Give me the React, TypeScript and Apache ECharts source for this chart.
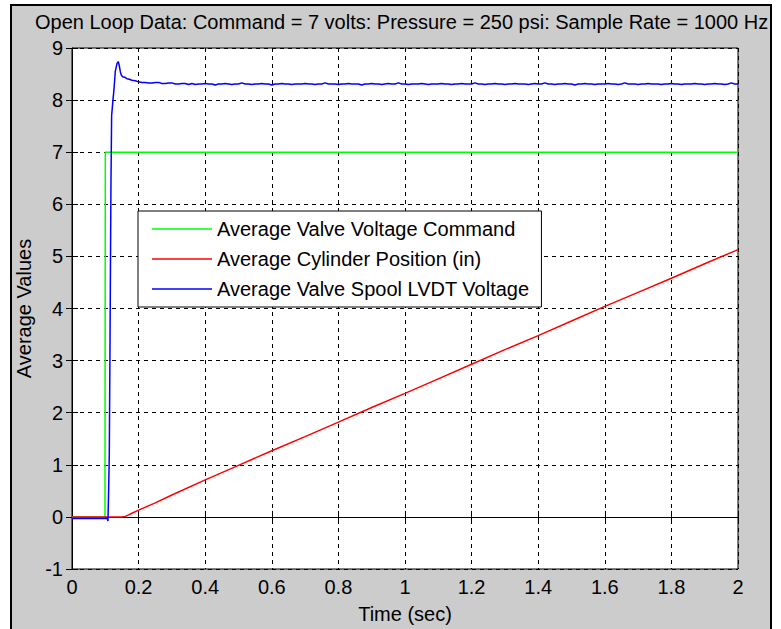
import React, { useEffect, useRef } from "react";
import * as echarts from "echarts";

const TITLE = "Open Loop Data: Command = 7 volts: Pressure = 250 psi: Sample Rate = 1000 Hz";
const X_NAME = "Time (sec)";
const Y_NAME = "Average Values";
const SERIES_NAMES = [
  "Average Valve Voltage Command",
  "Average Cylinder Position (in)",
  "Average Valve Spool LVDT Voltage",
];

// Command step (time, volts)
const commandData: [number, number][] = [
  [0, 0],
  [0.099, 0],
  [0.1, 7],
  [2.0, 7],
];

// Cylinder position (time, in)
const positionData: [number, number][] = [
  [0, 0],
  [0.1, 0],
  [0.15, 0],
  [0.16, 0.01],
  [0.17, 0.04],
  [0.18, 0.07],
  [0.2, 0.13],
  [0.25, 0.27],
  [0.3, 0.42],
  [0.4, 0.71],
  [0.5, 0.99],
  [0.6, 1.27],
  [0.7, 1.54],
  [0.8, 1.82],
  [0.9, 2.1],
  [1.0, 2.37],
  [1.1, 2.65],
  [1.2, 2.93],
  [1.3, 3.21],
  [1.4, 3.48],
  [1.5, 3.76],
  [1.6, 4.04],
  [1.7, 4.31],
  [1.8, 4.58],
  [1.9, 4.86],
  [2.0, 5.13],
];

// LVDT spool voltage: rise and overshoot (time, volts)
const lvdtRise: [number, number][] = [
  [0, -0.03],
  [0.05, -0.03],
  [0.106, -0.03],
  [0.108, -0.08],
  [0.11, 0.5],
  [0.112, 1.2],
  [0.114, 3.2],
  [0.117, 6.4],
  [0.119, 7.7],
  [0.123, 8.0],
  [0.126, 8.2],
  [0.13, 8.55],
  [0.135, 8.7],
  [0.139, 8.74],
  [0.142, 8.66],
  [0.145, 8.55],
  [0.148, 8.48],
  [0.152, 8.45],
  [0.158, 8.44],
  [0.165, 8.41],
  [0.172, 8.4],
  [0.18, 8.38],
  [0.19, 8.37],
];
// LVDT steady state, every 0.01 s from 0.20 to 2.00
const lvdtSteady: number[] = [
  8.35, 8.34, 8.34, 8.33, 8.33, 8.34, 8.34, 8.32, 8.32, 8.33,
  8.33, 8.31, 8.31, 8.32, 8.32, 8.3, 8.32, 8.3, 8.31, 8.31,
  8.32, 8.31, 8.31, 8.29, 8.31, 8.31, 8.32, 8.31, 8.3, 8.31,
  8.31, 8.33, 8.31, 8.31, 8.3, 8.31, 8.31, 8.32, 8.31, 8.31,
  8.29, 8.31, 8.31, 8.32, 8.31, 8.31, 8.3, 8.31, 8.31, 8.31,
  8.32, 8.31, 8.31, 8.3, 8.31, 8.31, 8.33, 8.31, 8.31, 8.31,
  8.3, 8.31, 8.31, 8.32, 8.31, 8.31, 8.31, 8.29, 8.31, 8.31,
  8.32, 8.31, 8.31, 8.3, 8.31, 8.32, 8.31, 8.31, 8.33, 8.31,
  8.31, 8.3, 8.31, 8.31, 8.31, 8.32, 8.31, 8.3, 8.31, 8.31,
  8.31, 8.32, 8.31, 8.31, 8.3, 8.31, 8.31, 8.32, 8.31, 8.31,
  8.31, 8.33, 8.31, 8.31, 8.3, 8.31, 8.31, 8.32, 8.31, 8.31,
  8.3, 8.31, 8.31, 8.32, 8.31, 8.31, 8.31, 8.3, 8.31, 8.32,
  8.31, 8.31, 8.33, 8.31, 8.31, 8.3, 8.31, 8.31, 8.32, 8.31,
  8.31, 8.29, 8.31, 8.31, 8.32, 8.31, 8.31, 8.3, 8.31, 8.31,
  8.31, 8.32, 8.31, 8.31, 8.3, 8.31, 8.33, 8.31, 8.31, 8.31,
  8.3, 8.31, 8.31, 8.32, 8.31, 8.31, 8.31, 8.3, 8.31, 8.31,
  8.32, 8.31, 8.31, 8.3, 8.31, 8.31, 8.31, 8.32, 8.31, 8.31,
  8.3, 8.31, 8.31, 8.32, 8.31, 8.31, 8.3, 8.31, 8.33, 8.31,
  8.31,
];
const LVDT_STEADY_START = 0.2;
const LVDT_STEADY_STEP = 0.01;

const X_MIN = 0;
const X_MAX = 2;
const X_INTERVAL = 0.2;
const Y_MIN = -1;
const Y_MAX = 9;
const Y_INTERVAL = 1;

const COLORS = ["#00ff00", "#ff0000", "#0000ff"];
const FONT = "'Liberation Sans', Arial, Helvetica, sans-serif";

export default function App() {
  const ref = useRef<HTMLDivElement>(null);

  useEffect(() => {
    if (!ref.current) return;
    const chart = echarts.init(ref.current, undefined, { renderer: "svg" });

    const lvdtData: [number, number][] = [
      ...lvdtRise,
      ...lvdtSteady.map(
        (v, i) =>
          [
            Math.round((LVDT_STEADY_START + i * LVDT_STEADY_STEP) * 1000) / 1000,
            v,
          ] as [number, number]
      ),
    ];

    const gridLine = { color: "#000", type: [4, 4] as number[], width: 1 };
    const tick = { show: true, inside: true, length: 6, lineStyle: { color: "#000" } };

    chart.setOption({
      animation: false,
      textStyle: { fontFamily: FONT },
      title: {
        text: TITLE,
        left: 35,
        top: 12,
        padding: 0,
        textStyle: { fontFamily: FONT, fontSize: 20, fontWeight: "normal", color: "#000" },
      },
      grid: {
        left: 72,
        width: 666,
        top: 48,
        height: 525,
        show: true,
        backgroundColor: "#ffffff",
        borderColor: "#000",
        borderWidth: 1,
      },
      legend: {
        orient: "vertical",
        left: 138,
        top: 211,
        data: SERIES_NAMES,
        icon: "rect",
        itemWidth: 60,
        itemHeight: 1.5,
        itemGap: 10,
        padding: [8, 12, 8, 14],
        backgroundColor: "#ffffff",
        borderColor: "#000",
        borderWidth: 1,
        borderRadius: 0,
        textStyle: { fontFamily: FONT, fontSize: 20, lineHeight: 20, color: "#000" },
        selectedMode: false,
      },
      xAxis: [
        {
          type: "value",
          min: X_MIN,
          max: X_MAX,
          interval: X_INTERVAL,
          name: X_NAME,
          nameLocation: "middle",
          nameGap: 35,
          nameTextStyle: { fontFamily: FONT, fontSize: 20, color: "#000" },
          axisLine: { show: true, lineStyle: { color: "#000" } },
          axisTick: tick,
          axisLabel: { fontFamily: FONT, fontSize: 20, color: "#000", margin: 8 },
          splitLine: { show: true, lineStyle: gridLine },
        },
        {
          type: "value",
          position: "top",
          min: X_MIN,
          max: X_MAX,
          interval: X_INTERVAL,
          axisLine: { show: false },
          axisTick: tick,
          axisLabel: { show: false },
          splitLine: { show: false },
        },
      ],
      yAxis: [
        {
          type: "value",
          min: Y_MIN,
          max: Y_MAX,
          interval: Y_INTERVAL,
          name: Y_NAME,
          nameLocation: "middle",
          nameGap: 34,
          nameTextStyle: { fontFamily: FONT, fontSize: 20, color: "#000" },
          axisLine: { show: true, lineStyle: { color: "#000" } },
          axisTick: tick,
          axisLabel: { fontFamily: FONT, fontSize: 20, color: "#000", margin: 9 },
          splitLine: { show: true, lineStyle: gridLine },
        },
        {
          type: "value",
          position: "right",
          min: Y_MIN,
          max: Y_MAX,
          interval: Y_INTERVAL,
          axisLine: { show: false },
          axisTick: tick,
          axisLabel: { show: false },
          splitLine: { show: false },
        },
      ],
      series: [
        {
          name: SERIES_NAMES[0],
          type: "line",
          data: commandData,
          symbol: "none",
          color: COLORS[0],
          lineStyle: { width: 1.5, color: COLORS[0] },
        },
        {
          name: SERIES_NAMES[1],
          type: "line",
          data: positionData,
          symbol: "none",
          color: COLORS[1],
          lineStyle: { width: 1.5, color: COLORS[1] },
        },
        {
          name: SERIES_NAMES[2],
          type: "line",
          data: lvdtData,
          symbol: "none",
          color: COLORS[2],
          lineStyle: { width: 1.5, color: COLORS[2] },
        },
      ],
    });

    return () => chart.dispose();
  }, []);

  return (
    <div
      style={{
        position: "fixed",
        left: 0,
        top: 0,
        width: 781,
        height: 629,
        background: "#ffffff",
        overflow: "hidden",
      }}
    >
      <div
        style={{
          position: "absolute",
          left: 10,
          top: 4,
          width: 762,
          height: 640,
          boxSizing: "border-box",
          border: "2px solid #000",
          background: "#cccccc",
        }}
      />
      <div
        ref={ref}
        style={{ position: "absolute", left: 0, top: 0, width: 781, height: 629 }}
      />
    </div>
  );
}
